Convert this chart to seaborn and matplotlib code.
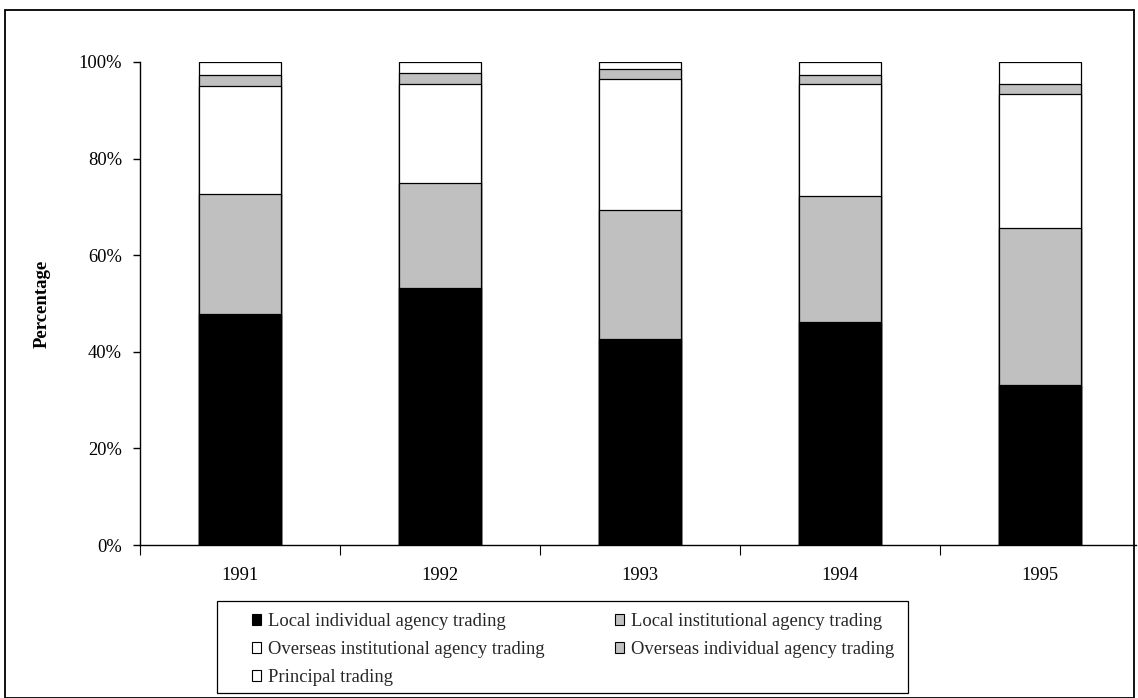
import numpy as np
import pandas as pd
import matplotlib.pyplot as plt
import seaborn as sns
from matplotlib.patches import Patch, Rectangle
from matplotlib.ticker import PercentFormatter

sns.set_theme(style="white")
plt.rcParams['font.family'] = ['Liberation Serif', 'DejaVu Serif']

years = ['1991', '1992', '1993', '1994', '1995']
local_individual = [47.8, 53.3, 42.6, 46.1, 33.1]
local_institutional = [24.8, 21.6, 26.8, 26.2, 32.6]
overseas_institutional = [22.4, 20.6, 27.1, 23.2, 27.7]
overseas_individual = [2.4, 2.2, 2.0, 1.9, 2.1]
principal = [2.6, 2.3, 1.5, 2.6, 4.5]

labels = ['Local individual agency trading', 'Local institutional agency trading',
          'Overseas institutional agency trading', 'Overseas individual agency trading',
          'Principal trading']
colors = ['black', '#c0c0c0', 'white', '#c0c0c0', 'white']

df = pd.DataFrame({'year': years,
                   labels[0]: local_individual,
                   labels[1]: local_institutional,
                   labels[2]: overseas_institutional,
                   labels[3]: overseas_individual,
                   labels[4]: principal})
cum = df[labels].cumsum(axis=1)

W, H = 1138, 698
fig = plt.figure(figsize=(W / 100, H / 100), dpi=100)
ax = fig.add_axes([140 / W, 153 / H, 996 / W, 483 / H])

# draw the stacks top-down so each lower segment sits over the one above
for lab, col in reversed(list(zip(labels, colors))):
    sns.barplot(x=df['year'], y=cum[lab], color=col, width=0.41, saturation=1,
                edgecolor='black', linewidth=0.9, ax=ax)

ax.set_xlim(-0.5, -0.5 + 996 / 200)
ax.set_ylim(0, 100)
ax.set_yticks(range(0, 101, 20))
ax.yaxis.set_major_formatter(PercentFormatter(decimals=0))
ax.set_xticks(range(len(years)))
ax.set_xticklabels(years)
ax.set_xticks(np.arange(-0.5, 4.0, 1.0), minor=True)
ax.tick_params(axis='y', direction='out', length=5, width=1, pad=8, labelsize=13.3,
               left=True, color='black', labelcolor='black')
ax.tick_params(axis='x', which='major', length=0, pad=16, labelsize=13.3, labelcolor='black')
ax.tick_params(axis='x', which='minor', direction='out', length=7, width=0.8,
               bottom=True, color='black')
ax.set_xlabel('')
ax.set_ylabel('Percentage', fontsize=13.5, fontweight='bold', color='black')
ax.yaxis.set_label_coords(-0.0894, 0.5)
for s in ['top', 'right']:
    ax.spines[s].set_visible(False)
for s in ['left', 'bottom']:
    ax.spines[s].set_color('black')
    ax.spines[s].set_linewidth(1)

order = [0, 2, 4, 1, 3]
handles = [Patch(facecolor=colors[i], edgecolor='black', linewidth=0.8) for i in order]
fig.legend(handles, [labels[i] for i in order], loc='upper left',
           bbox_to_anchor=(252 / W, 1 - 613 / H), ncol=2, frameon=False,
           handlelength=0.5, handleheight=0.5, handletextpad=0.35,
           columnspacing=3.8, labelspacing=0.6, fontsize=13.4,
           borderpad=0, borderaxespad=0)
fig.patches.append(Rectangle((217 / W, 5 / H), 691 / W, 92 / H, transform=fig.transFigure,
                             fill=False, edgecolor='black', linewidth=0.9))
fig.patches.append(Rectangle((4.5 / W, 0.5 / H), 1129 / W, 687.5 / H, transform=fig.transFigure,
                             fill=False, edgecolor='black', linewidth=1.3))

fig.savefig('out.png', dpi=100)
